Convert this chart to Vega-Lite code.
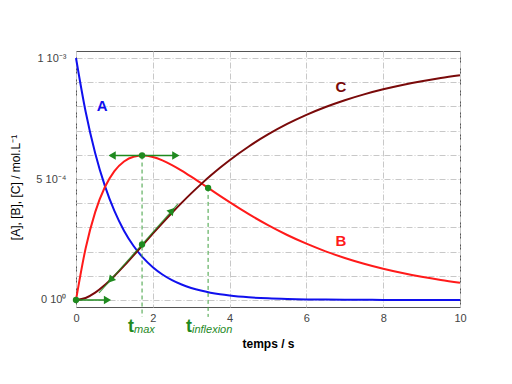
{
  "$schema": "https://vega.github.io/schema/vega-lite/v6.json",
  "width": 384,
  "height": 256,
  "autosize": {"type": "none"},
  "padding": {"left": 76, "top": 51, "right": 52, "bottom": 77},
  "background": "white",
  "config": {
    "view": {"stroke": "#555555", "strokeWidth": 1},
    "font": "Liberation Sans"
  },
  "datasets": {
    "curves": [
      {"t": 0, "A": 1, "B": 0, "C": 0},
      {"t": 0.25, "A": 0.7788, "B": 0.2128, "C": 0.0084},
      {"t": 0.5, "A": 0.6065, "B": 0.3632, "C": 0.0303},
      {"t": 0.75, "A": 0.4724, "B": 0.4659, "C": 0.0617},
      {"t": 1, "A": 0.3679, "B": 0.5327, "C": 0.0994},
      {"t": 1.25, "A": 0.2865, "B": 0.5726, "C": 0.1409},
      {"t": 1.5, "A": 0.2231, "B": 0.5922, "C": 0.1847},
      {"t": 1.75, "A": 0.1738, "B": 0.5968, "C": 0.2294},
      {"t": 2, "A": 0.1353, "B": 0.5907, "C": 0.274},
      {"t": 2.25, "A": 0.1054, "B": 0.5768, "C": 0.3178},
      {"t": 2.5, "A": 0.0821, "B": 0.5575, "C": 0.3604},
      {"t": 2.75, "A": 0.0639, "B": 0.5348, "C": 0.4013},
      {"t": 3, "A": 0.0498, "B": 0.5097, "C": 0.4405},
      {"t": 3.25, "A": 0.0388, "B": 0.4834, "C": 0.4778},
      {"t": 3.5, "A": 0.0302, "B": 0.4568, "C": 0.513},
      {"t": 3.75, "A": 0.0235, "B": 0.4302, "C": 0.5463},
      {"t": 4, "A": 0.0183, "B": 0.4041, "C": 0.5776},
      {"t": 4.5, "A": 0.0111, "B": 0.3545, "C": 0.6344},
      {"t": 5, "A": 0.0067, "B": 0.3092, "C": 0.6841},
      {"t": 5.5, "A": 0.0041, "B": 0.2685, "C": 0.7274},
      {"t": 6, "A": 0.0025, "B": 0.2326, "C": 0.7649},
      {"t": 6.5, "A": 0.0015, "B": 0.2011, "C": 0.7974},
      {"t": 7, "A": 0.0009, "B": 0.1737, "C": 0.8254},
      {"t": 7.5, "A": 0.00055, "B": 0.1498, "C": 0.8497},
      {"t": 8, "A": 0.00034, "B": 0.1291, "C": 0.8706},
      {"t": 8.5, "A": 0.0002, "B": 0.1113, "C": 0.8885},
      {"t": 9, "A": 0.00012, "B": 0.0958, "C": 0.9041},
      {"t": 9.5, "A": 0.00007, "B": 0.0825, "C": 0.9174},
      {"t": 10, "A": 0.000045, "B": 0.0711, "C": 0.9289}
    ],
    "names": [
      {"t": 0.68, "c": 0.8, "species": "A"},
      {"t": 6.9, "c": 0.244, "species": "B"},
      {"t": 6.9, "c": 0.88, "species": "C"}
    ],
    "drops": [
      {"t": 1.72, "c": 0.597, "c2": -0.07},
      {"t": 3.44, "c": 0.4632, "c2": -0.07}
    ],
    "shafts": [
      {"t": 0, "t2": 0.86, "c": 0},
      {"t": 0.9, "t2": 2.64, "c": 0.597}
    ],
    "tangent": [
      {"t": 0.6, "c": 0.029},
      {"t": 2.65, "c": 0.3959}
    ],
    "headsRight": [
      {"t": 0.82, "c": 0},
      {"t": 2.6, "c": 0.597}
    ],
    "headsLeft": [
      {"t": 0.94, "c": 0.597}
    ],
    "headsUp": [
      {"t": 2.5, "c": 0.3691}
    ],
    "headsDown": [
      {"t": 0.9, "c": 0.0826}
    ],
    "dots": [
      {"t": 0, "c": 0},
      {"t": 1.72, "c": 0.597},
      {"t": 1.72, "c": 0.2294},
      {"t": 3.44, "c": 0.4632}
    ],
    "tnames": [
      {"t": 1.51, "c": -0.132, "sub": "max"},
      {"t": 3.02, "c": -0.132, "sub": "inflexion"}
    ]
  },
  "encoding": {
    "x": {
      "field": "t",
      "type": "quantitative",
      "scale": {"domain": [0, 10], "nice": false, "zero": false},
      "axis": {
        "values": [0, 2, 4, 6, 8, 10],
        "grid": true,
        "gridColor": "#c8c8c8",
        "gridDash": [6, 2, 1, 2],
        "domain": false,
        "ticks": false,
        "labelFlush": false,
        "labelFont": "Liberation Sans",
        "labelFontSize": 11,
        "labelColor": "#444444",
        "labelPadding": 5,
        "title": "temps / s",
        "titleFont": "Liberation Sans",
        "titleFontSize": 12,
        "titleFontWeight": "bold",
        "titleColor": "#000000",
        "titleY": 36,
        "titleBaseline": "middle"
      }
    },
    "y": {
      "field": "c",
      "type": "quantitative",
      "scale": {"domain": [-0.029, 1.029], "nice": false, "zero": false},
      "axis": {
        "values": [0, 0.1, 0.2, 0.3, 0.4, 0.5, 0.6, 0.7, 0.8, 0.9, 1.0],
        "labelExpr": "abs(datum.value) < 1e-6 ? '0 10⁰' : abs(datum.value - 0.5) < 1e-6 ? '5 10⁻⁴' : abs(datum.value - 1) < 1e-6 ? '1 10⁻³' : ''",
        "grid": true,
        "gridColor": "#c8c8c8",
        "gridDash": [6, 2, 1, 2],
        "domain": false,
        "ticks": false,
        "labelFont": "Liberation Sans",
        "labelFontSize": 11,
        "labelColor": "#444444",
        "labelPadding": 10,
        "title": "[A], [B], [C] / mol.L⁻¹",
        "titleFont": "Liberation Sans",
        "titleFontSize": 12,
        "titleFontWeight": "normal",
        "titleColor": "#000000",
        "titleX": -61,
        "titleY": 136,
        "titleBaseline": "middle"
      }
    }
  },
  "layer": [
    {
      "data": {"name": "curves"},
      "transform": [{"fold": ["A", "B", "C"], "as": ["species", "c"]}],
      "mark": {"type": "line", "strokeWidth": 2, "interpolate": "monotone"},
      "encoding": {
        "color": {
          "field": "species",
          "type": "nominal",
          "scale": {"domain": ["A", "B", "C"], "range": ["#1010ee", "#ff1a1a", "#7a0a0a"]},
          "legend": null
        }
      }
    },
    {
      "data": {"name": "names"},
      "mark": {"type": "text", "fontSize": 15, "fontWeight": "bold", "font": "Liberation Sans"},
      "encoding": {
        "text": {"field": "species"},
        "color": {"field": "species", "type": "nominal", "legend": null}
      }
    },
    {
      "data": {"name": "drops"},
      "mark": {"type": "rule", "color": "#3f9f3f", "strokeDash": [4, 3], "strokeWidth": 1},
      "encoding": {"y2": {"field": "c2"}}
    },
    {
      "data": {"name": "shafts"},
      "mark": {"type": "rule", "color": "#1f8a1f", "strokeWidth": 1.5},
      "encoding": {"x2": {"field": "t2"}}
    },
    {
      "data": {"name": "tangent"},
      "mark": {"type": "line", "color": "#1f8a1f", "strokeWidth": 1.2, "opacity": 0.8},
      "encoding": {}
    },
    {
      "data": {"name": "headsRight"},
      "mark": {"type": "point", "shape": "triangle-right", "filled": true, "color": "#1f8a1f", "size": 70, "opacity": 1},
      "encoding": {}
    },
    {
      "data": {"name": "headsLeft"},
      "mark": {"type": "point", "shape": "triangle-left", "filled": true, "color": "#1f8a1f", "size": 70, "opacity": 1},
      "encoding": {}
    },
    {
      "data": {"name": "headsUp"},
      "mark": {"type": "point", "shape": "triangle-right", "angle": 311.6, "filled": true, "color": "#1f8a1f", "size": 70, "opacity": 1},
      "encoding": {}
    },
    {
      "data": {"name": "headsDown"},
      "mark": {"type": "point", "shape": "triangle-left", "angle": 311.6, "filled": true, "color": "#1f8a1f", "size": 70, "opacity": 1},
      "encoding": {}
    },
    {
      "data": {"name": "dots"},
      "mark": {"type": "point", "shape": "circle", "filled": true, "color": "#1f8a1f", "size": 40, "opacity": 1},
      "encoding": {}
    },
    {
      "data": {"name": "tnames"},
      "mark": {"type": "text", "text": "t", "align": "right", "baseline": "alphabetic", "fontSize": 18, "fontWeight": "bold", "font": "Liberation Sans", "color": "#1f8a1f"},
      "encoding": {}
    },
    {
      "data": {"name": "tnames"},
      "mark": {"type": "text", "align": "left", "baseline": "alphabetic", "dy": 1, "fontSize": 11, "fontStyle": "italic", "font": "Liberation Sans", "color": "#1f8a1f"},
      "encoding": {"text": {"field": "sub"}}
    }
  ]
}
